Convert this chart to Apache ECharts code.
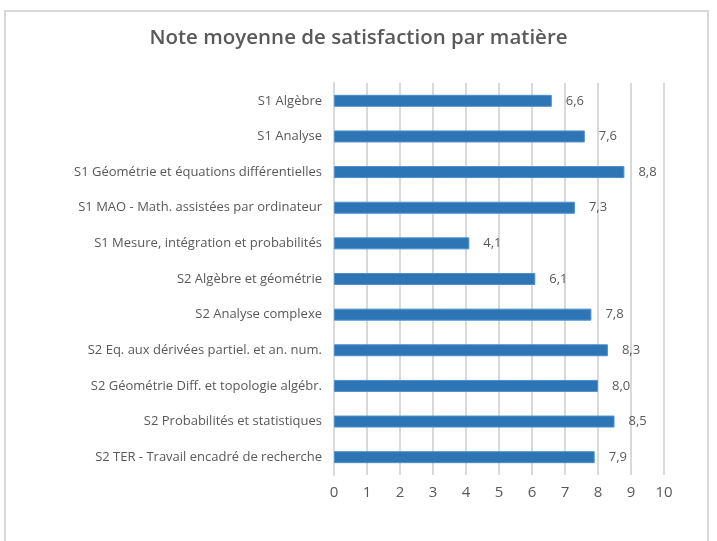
<!DOCTYPE html>
<html>
<head>
<meta charset="utf-8">
<script src="https://cdn.jsdelivr.net/npm/echarts@6/dist/echarts.min.js"></script>
<style>
  body { margin: 0; background: #fff; }
  .frame {
    position: absolute;
    left: 4px; top: 10px; width: 705px; height: 560px;
    border: 2px solid #d9d9d9;
    box-sizing: border-box;
  }
  #chart { position: absolute; left: 0; top: 0; width: 717px; height: 541px; }
</style>
</head>
<body>
<div class="frame"></div>
<div id="chart"></div>
<script>
const categories = [
  'S1 Algèbre',
  'S1 Analyse',
  'S1 Géométrie et équations différentielles',
  'S1 MAO - Math. assistées par ordinateur',
  'S1 Mesure, intégration et probabilités',
  'S2 Algèbre et géométrie',
  'S2 Analyse complexe',
  'S2 Eq. aux dérivées partiel. et an. num.',
  'S2 Géométrie Diff. et topologie algébr.',
  'S2 Probabilités et statistiques',
  'S2 TER - Travail encadré de recherche'
];
const scores = [6.6, 7.6, 8.8, 7.3, 4.1, 6.1, 7.8, 8.3, 8.0, 8.5, 7.9];
const xTicks = [0, 10, 1];

const font = '"Open Sans", sans-serif';
let chart = echarts.init(document.getElementById('chart'));
let option = {
  animation: false,
  title: {
    text: 'Note moyenne de satisfaction par matière',
    left: 'center',
    top: 23,
    textStyle: { color: '#595959', fontSize: 20.5, fontWeight: 600, fontFamily: font }
  },
  grid: { left: 334, right: 53, top: 83, bottom: 66 },
  xAxis: {
    type: 'value',
    min: xTicks[0],
    max: xTicks[1],
    interval: xTicks[2],
    axisLine: { show: false },
    axisTick: { show: false },
    axisLabel: { color: '#595959', fontSize: 15, fontFamily: font, margin: 10 },
    splitLine: { lineStyle: { color: '#d9d9d9', width: 2 } }
  },
  yAxis: {
    type: 'category',
    data: categories,
    inverse: true,
    axisLine: { lineStyle: { color: '#d9d9d9', width: 2 } },
    axisTick: { show: false },
    axisLabel: { color: '#595959', fontSize: 13, fontFamily: font, margin: 12 }
  },
  series: [{
    type: 'bar',
    data: scores,
    barWidth: 12,
    itemStyle: { color: '#2e75b6', borderColor: '#4f8fcc', borderWidth: 1 },
    label: {
      show: true,
      position: 'right',
      distance: 14,
      color: '#595959',
      fontSize: 13,
      fontFamily: font,
      formatter: p => p.value.toFixed(1).replace('.', ',')
    }
  }]
};
chart.setOption(option);
</script>
</body>
</html>
